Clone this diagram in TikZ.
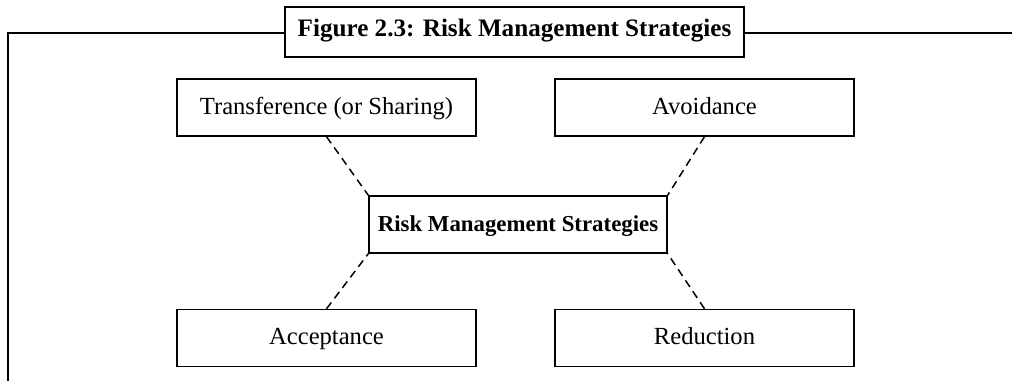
\documentclass[tikz,border=0pt]{standalone}
\usepackage{fontspec}
\setmainfont{Liberation Serif}
\tikzset{
  stratbox/.style={draw,line width=0.8pt,minimum width=5.98cm,minimum height=1.14cm,inner sep=0pt,
    text height=1.9ex,text depth=0.2ex,font=\fontsize{14}{16}\selectfont},
  link/.style={line width=0.85pt,dash pattern=on 4.5pt off 3pt}
}
\begin{document}
\begin{tikzpicture}[x=0.02cm,y=-0.02cm]
\useasboundingbox (0,0) rectangle (1012,381);
% frame round the figure
\draw[line width=1.4pt] (1012,33) -| (8,381);
\node[draw,line width=1.4pt,fill=white,minimum width=9.18cm,minimum height=1cm,text height=1.6ex,text depth=0.4ex,font=\fontsize{14.3}{16}\selectfont\bfseries] (title) at (514.5,32) {Figure 2.3: Risk Management Strategies};
\node[stratbox] (trans) at (326.5,107.5) {Transference (or Sharing)};
\node[stratbox] (avoid) at (704.5,107.5) {Avoidance};
\node[stratbox,minimum width=5.96cm,font=\fontsize{13}{15}\selectfont\bfseries] (risk) at (518,224.5) {Risk Management Strategies};
\node[stratbox] (accept) at (326.5,338) {Acceptance};
\node[stratbox] (reduce) at (704.5,338) {Reduction};
\draw[link] (trans.south) -- (risk.north west);
\draw[link] (avoid.south) -- (risk.north east);
\draw[link] (accept.north) -- (risk.south west);
\draw[link] (reduce.north) -- (risk.south east);
\end{tikzpicture}
\end{document}
